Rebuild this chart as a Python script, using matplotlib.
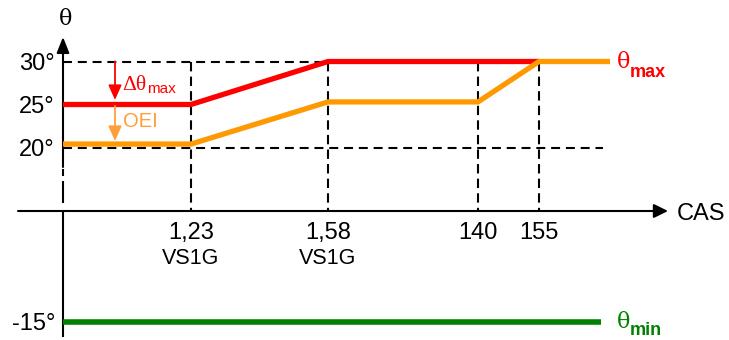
import numpy as np
import matplotlib
matplotlib.use("Agg")
import matplotlib.pyplot as plt
from matplotlib.transforms import offset_copy

# ---------------- data ----------------
speed_values = ["1,23", "1,58", "140", "155"]
speed_units = ["VS1G", "VS1G", "", ""]
theta_ticks = [30, 25, 20, -15]
theta_tick_labels = ["30°", "25°", "20°", "-15°"]
theta_max_line = [25, 25, 30, 30]              # origin, 1.23VS1G, 1.58VS1G, 155
theta_oei_line = [20.4, 20.4, 25.3, 25.3, 30, 30]  # origin, 1.23, 1.58, 140, 155, end
theta_min_line = [-15, -15]

# ---------------- layout (pixel positions along schematic x) ----------------
X0 = 63
speed_x = [191, 328, 478, 539]
X_END = 610
X_MIN_END = 601
red_x = [X0, speed_x[0], speed_x[1], speed_x[3]]
orange_x = [X0, speed_x[0], speed_x[1], speed_x[2], speed_x[3], X_END]
green_x = [X0, X_MIN_END]

# broken y scale: linear above BREAK, compressed below
BREAK, S = 12.0, 0.455
def fwd(y):
    y = np.asarray(y, float)
    return np.where(y >= BREAK, y, BREAK + (y - BREAK) * S)
def inv(f):
    f = np.asarray(f, float)
    return np.where(f >= BREAK, f, BREAK + (f - BREAK) / S)
def py(p):
    return float(inv(20 + (147.5 - p) / 8.6))

fig = plt.figure(figsize=(7.29, 3.40), dpi=100)
ax = fig.add_axes([0, 0, 1, 1])
ax.set_yscale("function", functions=(fwd, inv))
ax.set_xlim(0, 729)
ax.set_ylim(py(340), py(0))
ax.axis("off")

SANS = "Liberation Sans"
SERIF = "DejaVu Serif"
RED = "#FF0000"
ORANGE = "#FF9900"
LORANGE = "#FF9F3A"
GREEN = "#008000"
y_axis_cross = py(211)

dash = (0, (4.3, 2.8))
# dashed guides
ax.plot([X0, speed_x[3]], [30, 30], color="k", lw=1.5, ls=dash, zorder=1)
ax.plot([X0, 603], [20, 20], color="k", lw=1.5, ls=dash, zorder=1)
for xs in speed_x:
    ax.plot([xs, xs], [30, y_axis_cross], color="k", lw=1.5, ls=(0, (4.5, 2.5)), zorder=1)

# x axis
ax.annotate("", xy=(668, y_axis_cross), xytext=(18, y_axis_cross),
            arrowprops=dict(arrowstyle="-|>,head_length=0.85,head_width=0.42",
                            lw=1.5, color="k", shrinkA=0, shrinkB=0,
                            mutation_scale=10), zorder=3)
# y axis
ax.annotate("", xy=(X0, py(37)), xytext=(X0, py(167)),
            arrowprops=dict(arrowstyle="-|>,head_length=0.95,head_width=0.38",
                            lw=1.5, color="k", shrinkA=0, shrinkB=0,
                            mutation_scale=10), zorder=3)
for a, b in [(169, 176), (181, 203)]:
    ax.plot([X0, X0], [py(a), py(b)], color="k", lw=1.5, solid_capstyle="butt", zorder=3)
ax.plot([X0, X0], [y_axis_cross, py(337)], color="k", lw=1.5, solid_capstyle="butt", zorder=3)

# curves
ax.plot(red_x, theta_max_line, color=RED, lw=3.8, solid_joinstyle="miter",
        solid_capstyle="butt", zorder=4)
ax.plot(orange_x, theta_oei_line, color=ORANGE, lw=3.8, solid_joinstyle="miter",
        solid_capstyle="butt", zorder=5)
ax.plot(green_x, theta_min_line, color=GREEN, lw=4.0, solid_capstyle="butt", zorder=4)

# annotation arrows
ax.annotate("", xy=(115, py(100)), xytext=(115, 30),
            arrowprops=dict(arrowstyle="-|>,head_length=0.9,head_width=0.4",
                            lw=1.3, color=RED, shrinkA=0, shrinkB=0,
                            mutation_scale=10), zorder=6)
ax.annotate("", xy=(115, py(141)), xytext=(115, py(106)),
            arrowprops=dict(arrowstyle="-|>,head_length=0.9,head_width=0.4",
                            lw=1.3, color=LORANGE, shrinkA=0, shrinkB=0,
                            mutation_scale=10), zorder=6)

# tick labels on y
for v, lab in zip(theta_ticks, theta_tick_labels):
    tr = offset_copy(ax.transData, fig=fig, x=0, y=-8.5, units="dots")
    ax.text(55, v, lab, transform=tr, ha="right", va="baseline",
            fontsize=17, family=SANS)

# tick labels on x
for xs, val, unit in zip(speed_x, speed_values, speed_units):
    ax.text(xs, py(239), val, ha="center", va="baseline", fontsize=17, family=SANS)
    if unit:
        ax.text(xs, py(264), unit, ha="center", va="baseline", fontsize=15.5, family=SANS)

ax.text(677, py(220.5), "CAS", ha="left", va="baseline", fontsize=17, family=SANS)
ax.text(66, py(25), "θ", ha="center", va="baseline", fontsize=16, family=SERIF)

# curve labels
ax.text(617, py(68), "θ", ha="left", va="baseline", fontsize=16, family=SERIF, color=RED)
ax.text(630, py(77), "max", ha="left", va="baseline", fontsize=13,
        family=SANS, weight="bold", color=RED)
ax.text(617, py(328), "θ", ha="left", va="baseline", fontsize=16, family=SERIF, color=GREEN)
ax.text(630, py(335), "min", ha="left", va="baseline", fontsize=13,
        family=SANS, weight="bold", color=GREEN)

ax.text(122, py(90), "Δθ", ha="left", va="baseline", fontsize=15.5,
        family="Liberation Serif", color=RED)
ax.text(147, py(93), "max", ha="left", va="baseline", fontsize=11, family=SANS, color=RED)
ax.text(123, py(127), "OEI", ha="left", va="baseline", fontsize=14.5, family=SANS, color=LORANGE)

fig.savefig("out.png", dpi=100)
